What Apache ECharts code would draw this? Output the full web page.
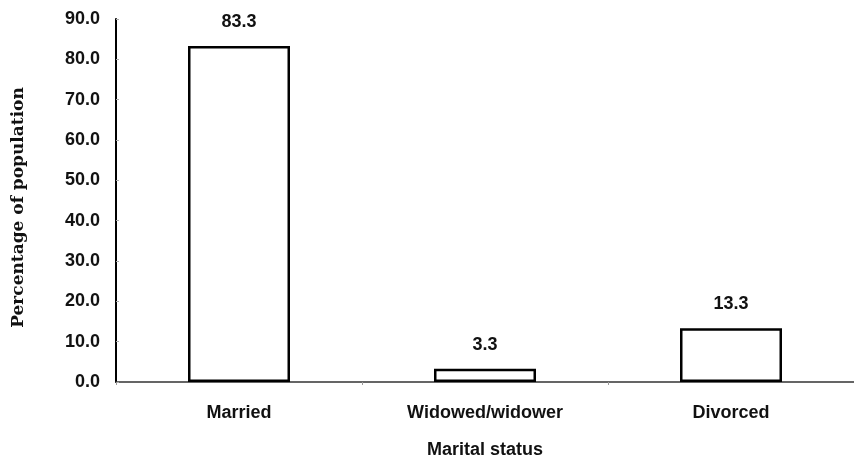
<!DOCTYPE html>
<html><head><meta charset="utf-8">
<script src="https://cdn.jsdelivr.net/npm/echarts@6/dist/echarts.min.js"></script>
<style>html,body{margin:0;padding:0;background:#fff}#c{width:854px;height:464px}</style>
</head><body><div id="c"></div>
<script>
const categories = ['Married', 'Widowed/widower', 'Divorced'];
const values = [83.3, 3.3, 13.3];
const yTicks = [0, 10, 20, 30, 40, 50, 60, 70, 80, 90];

const chart = echarts.init(document.getElementById('c'));
chart.setOption({
  animation: false,
  backgroundColor: '#fff',
  grid: { left: 116, top: 19, width: 745, height: 367, containLabel: false },
  xAxis: {
    type: 'category',
    data: categories,
    name: 'Marital status',
    nameLocation: 'middle',
    nameGap: 59,
    nameTextStyle: { fontFamily: 'Liberation Sans', fontWeight: 'bold', fontSize: 18, color: '#111' },
    axisLine: { lineStyle: { color: '#333', width: 1.5 } },
    axisTick: { show: true, length: 3, lineStyle: { color: '#999' } },
    axisLabel: { margin: 22, fontFamily: 'Liberation Sans', fontWeight: 'bold', fontSize: 18, color: '#111' }
  },
  yAxis: {
    type: 'value',
    min: 0, max: 90, interval: 10,
    name: 'Percentage of population',
    nameLocation: 'middle',
    nameGap: 89,
    nameTextStyle: { fontFamily: 'DejaVu Serif', fontWeight: 'bold', fontSize: 17, color: '#111', padding: [0, 14, 0, 0] },
    splitLine: { show: false },
    axisLine: { show: true, lineStyle: { color: '#000', width: 2 } },
    axisTick: { show: true, length: 3, inside: true, lineStyle: { color: '#aaa' } },
    axisLabel: { margin: 16, fontFamily: 'Liberation Sans', fontWeight: 'bold', fontSize: 18, color: '#111',
      formatter: v => yTicks.includes(v) ? v.toFixed(1) : '' }
  },
  series: [{
    type: 'bar',
    data: values,
    barWidth: 102,
    itemStyle: { color: '#fff', borderColor: '#000', borderWidth: 2.5 },
    label: { show: true, position: 'top', distance: 15, fontFamily: 'Liberation Sans', fontWeight: 'bold', fontSize: 18, color: '#111',
      formatter: p => p.value.toFixed(1) }
  }]
});
</script></body></html>
